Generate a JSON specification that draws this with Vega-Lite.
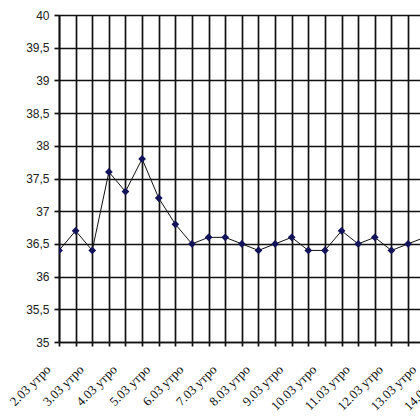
{
  "$schema": "https://vega.github.io/schema/vega-lite/v6.json",
  "autosize": {"type": "none"},
  "width": 361,
  "height": 327,
  "padding": {"left": 59, "top": 15, "right": 0, "bottom": 78},
  "background": "white",
  "config": {"view": {"stroke": null}},
  "data": {"values": [
    {"k": "2.03 утро", "t": 36.4},
    {"k": "2.03 вечер", "t": 36.7},
    {"k": "3.03 утро", "t": 36.4},
    {"k": "3.03 вечер", "t": 37.6},
    {"k": "4.03 утро", "t": 37.3},
    {"k": "4.03 вечер", "t": 37.8},
    {"k": "5.03 утро", "t": 37.2},
    {"k": "5.03 вечер", "t": 36.8},
    {"k": "6.03 утро", "t": 36.5},
    {"k": "6.03 вечер", "t": 36.6},
    {"k": "7.03 утро", "t": 36.6},
    {"k": "7.03 вечер", "t": 36.5},
    {"k": "8.03 утро", "t": 36.4},
    {"k": "8.03 вечер", "t": 36.5},
    {"k": "9.03 утро", "t": 36.6},
    {"k": "9.03 вечер", "t": 36.4},
    {"k": "10.03 утро", "t": 36.4},
    {"k": "10.03 вечер", "t": 36.7},
    {"k": "11.03 утро", "t": 36.5},
    {"k": "11.03 вечер", "t": 36.6},
    {"k": "12.03 утро", "t": 36.4},
    {"k": "12.03 вечер", "t": 36.5},
    {"k": "13.03 утро", "t": 36.6},
    {"k": "13.03 вечер", "t": null},
    {"k": "14.03 утро", "t": null}
  ]},
  "encoding": {
    "x": {
      "field": "k", "type": "ordinal", "sort": null,
      "scale": {"type": "point", "range": [0, 398.9], "padding": 0},
      "axis": {
        "title": null,
        "labelAngle": -45,
        "labelAlign": "right",
        "labelBaseline": "middle",
        "labelOffset": -11,
        "labelPadding": 21,
        "labelFont": "Liberation Serif",
        "labelFontSize": 13,
        "labelColor": "#111",
        "labelOverlap": false,
        "labelExpr": "indexof(datum.label, 'вечер') >= 0 ? '' : datum.label",
        "grid": true,
        "gridColor": "#111",
        "gridWidth": 1.7,
        "domainColor": "#111",
        "domainWidth": 1.7,
        "tickColor": "#111",
        "tickWidth": 1.7,
        "tickSize": 4
      }
    },
    "y": {
      "field": "t", "type": "quantitative",
      "scale": {"domain": [35, 40], "nice": false, "zero": false},
      "axis": {
        "title": null,
        "values": [35, 35.5, 36, 36.5, 37, 37.5, 38, 38.5, 39, 39.5, 40],
        "labelExpr": "replace(format(datum.value, '.1~f'), '.', ',')",
        "labelFont": "Liberation Sans",
        "labelFontSize": 12,
        "labelColor": "#222",
        "labelPadding": 5,
        "grid": true,
        "gridColor": "#111",
        "gridWidth": 1.7,
        "domainColor": "#111",
        "domainWidth": 1.7,
        "tickColor": "#111",
        "tickWidth": 1.7,
        "tickSize": 5
      }
    }
  },
  "layer": [
    {"mark": {"type": "line", "color": "#111", "strokeWidth": 1, "clip": true}},
    {"mark": {"type": "point", "shape": "diamond", "filled": true, "color": "#13135a", "size": 60, "opacity": 1, "clip": true}}
  ]
}
